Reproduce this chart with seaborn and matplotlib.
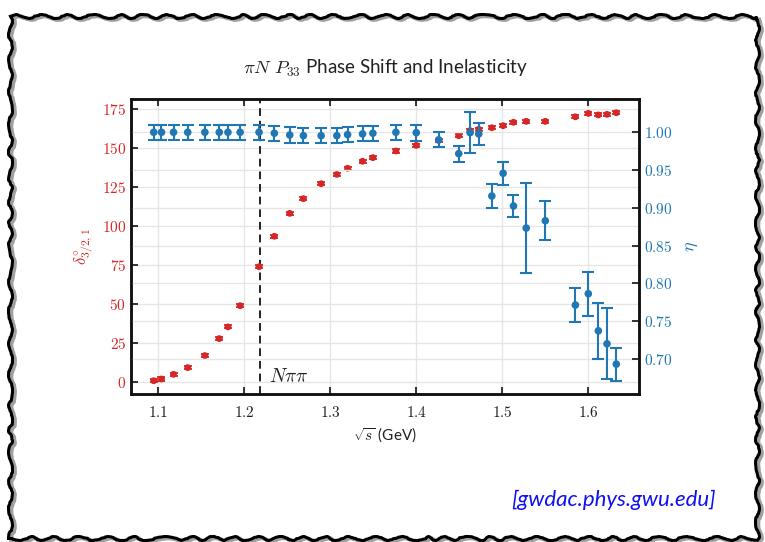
import numpy as np
import pandas as pd
import matplotlib
matplotlib.use("Agg")
import matplotlib.pyplot as plt
import matplotlib.patches as patches
from matplotlib.ticker import FuncFormatter, MultipleLocator
import seaborn as sns

# sqrt(s) in GeV (shared by both series)
energy = [1.0945, 1.1035, 1.1175, 1.134, 1.154, 1.1707, 1.1808, 1.195, 1.217,
          1.2348, 1.2527, 1.2686, 1.2892, 1.3075, 1.32, 1.3374, 1.3494,
          1.3762, 1.3999, 1.426, 1.4493, 1.4625, 1.4726, 1.4878, 1.5009,
          1.513, 1.5278, 1.55, 1.585, 1.6, 1.6117, 1.6218, 1.6326]
# phase shift delta (degrees)
delta = [0.8, 1.9, 4.9, 9.2, 16.9, 27.8, 35.3, 48.9, 73.9,
         93.4, 108.1, 117.5, 127.1, 133.1, 137.0, 141.5, 143.8,
         148.1, 151.7, 154.9, 157.9, 161.1, 162.0, 163.0, 164.3,
         166.5, 167.1, 167.1, 170.0, 172.2, 171.2, 171.6, 172.6]
delta_err = [1.0] * len(delta)
# inelasticity eta
eta = [1.0, 1.0, 1.0, 1.0, 1.0, 1.0, 1.0, 1.0, 1.0,
       0.9987, 0.9964, 0.9955, 0.9955, 0.9955, 0.9969, 0.9978, 0.9987,
       1.0, 0.9995, 0.990, 0.9717, 0.9995, 0.9978, 0.9156, 0.9457,
       0.9024, 0.8732, 0.8829, 0.7713, 0.7863, 0.7372, 0.720, 0.6931]
eta_err = [0.01, 0.01, 0.01, 0.01, 0.01, 0.01, 0.01, 0.01, 0.01,
           0.01, 0.01, 0.01, 0.01, 0.01, 0.01, 0.01, 0.01,
           0.01, 0.0104, 0.01, 0.0106, 0.027, 0.014, 0.016, 0.0155,
           0.015, 0.059, 0.026, 0.022, 0.029, 0.037, 0.047, 0.022]
threshold = 1.2177  # N pi pi threshold

df = pd.DataFrame({"E": energy, "delta": delta, "delta_err": delta_err,
                   "eta": eta, "eta_err": eta_err})

sns.set_theme(style="ticks")
plt.rcParams["font.family"] = ["Lato", "DejaVu Sans"]
plt.rcParams["mathtext.fontset"] = "cm"

red = "#d62728"
blue = "#1f77b4"

fig = plt.figure(figsize=(7.65, 5.42), dpi=100)
ax = fig.add_axes([0.1712, 0.2731, 0.6641, 0.5442])
ax2 = ax.twinx()

# phase shift (left axis)
ax.errorbar(df["E"], df["delta"], yerr=df["delta_err"], fmt="none",
            ecolor=red, elinewidth=1.3, capsize=3, capthick=1.3, zorder=3)
sns.scatterplot(data=df, x="E", y="delta", ax=ax, color=red, s=24,
                edgecolor="none", zorder=4)

# inelasticity (right axis)
ax2.errorbar(df["E"], df["eta"], yerr=df["eta_err"], fmt="none",
             ecolor=blue, elinewidth=1.5, capsize=4.3, capthick=1.5, zorder=3)
sns.scatterplot(data=df, x="E", y="eta", ax=ax2, color=blue, s=30,
                edgecolor="none", zorder=4)

ax.axvline(threshold, color="#222222", ls=(0, (4, 2.5)), lw=1.4, zorder=2)
ax.text(threshold + 0.011, 0.03, r"$N\pi\pi$", transform=ax.get_xaxis_transform(),
        fontsize=14, color="#222222", va="bottom")

ax.set_xlim(1.068, 1.659)
ax.set_ylim(-7.7, 181.4)
ax2.set_ylim(0.6536, 1.044)
ax.xaxis.set_major_locator(MultipleLocator(0.1))
ax.yaxis.set_major_locator(MultipleLocator(25))
ax2.yaxis.set_major_locator(MultipleLocator(0.05))
ax.xaxis.set_major_formatter(FuncFormatter(lambda v, p: f"${v:.1f}$"))
ax.yaxis.set_major_formatter(FuncFormatter(lambda v, p: f"${v:.0f}$"))
ax2.yaxis.set_major_formatter(FuncFormatter(lambda v, p: f"${v:.2f}$"))

ax.grid(True, color="#e6e6e6", lw=1.0)
ax2.grid(True, axis="y", color="#e6e6e6", lw=1.0)
ax.set_axisbelow(True)

ax.tick_params(axis="x", direction="in", top=True, length=5, width=1.3,
               labelsize=11, colors="#222222", pad=8)
ax.tick_params(axis="y", direction="in", length=5, width=1.3, labelsize=11,
               color="#222222", labelcolor=red, right=False)
ax2.tick_params(axis="y", direction="in", length=5, width=1.3, labelsize=11,
                color="#222222", labelcolor=blue)
for a in (ax, ax2):
    for s in a.spines.values():
        s.set_linewidth(1.8)
        s.set_color("#111111")

ax.set_xlabel(r"$\sqrt{s}$ (GeV)", fontsize=11, color="#222222")
ax.set_ylabel(r"$\delta^{\circ}_{3/2,1}$", fontsize=12, color=red)
ax2.set_ylabel(r"$\eta$", fontsize=13, color=blue, labelpad=8)
ax.set_title(r"$\pi N\ P_{33}$ Phase Shift and Inelasticity", fontsize=13.5,
             color="#222222", pad=18)

fig.text(0.936, 0.077, "[gwdac.phys.gwu.edu]", ha="right", va="center",
         fontsize=16, style="italic", color="#1010f0")

# sketchy frame with a soft shadow
shadow = patches.Rectangle((0.017, 0.004), 0.976, 0.962, transform=fig.transFigure,
                           fill=False, ec="#a0a0a0", lw=3.0, zorder=0)
shadow.set_sketch_params(scale=1.8, length=35, randomness=4)
frame = patches.Rectangle((0.013, 0.008), 0.976, 0.962, transform=fig.transFigure,
                          fill=False, ec="black", lw=2.2, zorder=1)
frame.set_sketch_params(scale=2.0, length=35, randomness=4)
fig.patches.extend([shadow, frame])

fig.savefig("out.png", dpi=100)
